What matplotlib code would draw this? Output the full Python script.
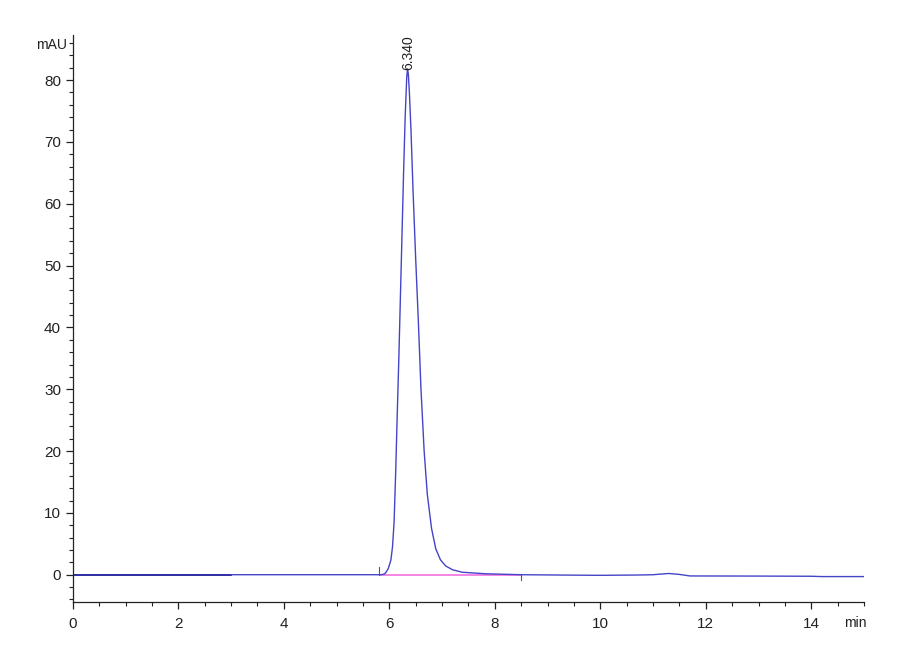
import numpy as np
import matplotlib.pyplot as plt
from matplotlib.ticker import MultipleLocator

plt.rcParams['font.family'] = ['Liberation Sans Narrow', 'Liberation Sans', 'DejaVu Sans']

# Chromatogram trace (time in min, signal in mAU)
time_min = [0.0, 3.0, 5.0, 5.80, 5.84, 5.90, 5.93, 5.98, 6.03, 6.06, 6.09,
            6.12, 6.15, 6.18, 6.21, 6.24, 6.27, 6.30, 6.33, 6.345, 6.36,
            6.38, 6.41, 6.45, 6.50, 6.55, 6.60, 6.66, 6.72, 6.80, 6.88,
            6.97, 7.07, 7.20, 7.38, 7.83, 8.50, 9.20, 10.0, 10.7, 11.0,
            11.3, 11.5, 11.7, 13.0, 14.0, 14.2, 15.0]
signal_mau = [0.0, 0.0, 0.0, 0.0, 0.0, 0.1, 0.3, 1.0, 2.4, 4.5, 8.5,
              16.5, 26.0, 35.0, 45.0, 55.0, 65.0, 74.0, 80.5, 81.8, 81.0,
              78.0, 72.0, 62.0, 51.0, 41.0, 30.0, 20.0, 13.0, 7.5, 4.2,
              2.4, 1.4, 0.8, 0.4, 0.15, 0.0, -0.05, -0.1, -0.05, 0.0,
              0.2, 0.05, -0.2, -0.22, -0.25, -0.3, -0.3]

# integration baseline and peak label
base_start, base_end = 5.84, 8.50
peak_rt = 6.340
peak_height = 81.8

fig = plt.figure(figsize=(9, 6.6), dpi=100)
ax = fig.add_axes([0.081, 0.088, 0.879, 0.859])

t = np.array(time_min)
s = np.array(signal_mau)
early = t <= 3.0
late = t >= 3.0
ax.plot(t[early], s[early], color='#1c1c9c', lw=1.3, zorder=3)
ax.plot(t[late], s[late], color='#4444c8', lw=1.0, zorder=3)

# integration baseline (pink) and event marks
ax.plot([base_start, base_end], [0, 0], color='#f070e0', lw=1.2, zorder=2)
ax.plot([5.81, 5.81], [0, 1.3], color='#555577', lw=0.8)
ax.plot([base_end, base_end], [-0.1, -0.8], color='#555577', lw=0.8)

ax.text(peak_rt + 0.02, peak_height - 0.2, f'{peak_rt:.3f}', rotation=90, ha='center',
        va='bottom', fontsize=10, color='#222222', zorder=4)

ax.set_xlim(0, 15)
ax.set_ylim(-4.4, 87.3)
ax.xaxis.set_major_locator(MultipleLocator(2))
ax.xaxis.set_minor_locator(MultipleLocator(0.5))
ax.yaxis.set_major_locator(MultipleLocator(10))
ax.yaxis.set_minor_locator(MultipleLocator(2))

for side in ['top', 'right']:
    ax.spines[side].set_visible(False)
for side in ['left', 'bottom']:
    ax.spines[side].set_color('#222222')
    ax.spines[side].set_linewidth(0.9)

ax.tick_params(axis='both', which='major', direction='out', length=5,
               width=0.9, labelsize=11, colors='#222222')
ax.tick_params(axis='both', which='minor', direction='out', length=3, width=0.8,
               colors='#222222')
ax.tick_params(axis='x', pad=6)

ax.text(-0.008, 0.982, 'mAU', transform=ax.transAxes, ha='right', va='center',
        fontsize=10, color='#222222')
ax.text(1.003, -0.037, 'min', transform=ax.transAxes, ha='right', va='center',
        fontsize=10, color='#222222')

fig.savefig('out.png', dpi=100)
